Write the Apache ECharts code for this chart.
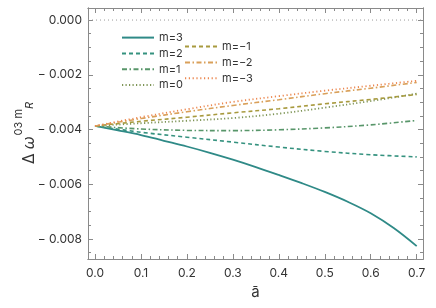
<!DOCTYPE html>
<html><head><meta charset="utf-8">
<script src="https://cdn.jsdelivr.net/npm/echarts@6/dist/echarts.min.js"></script>
<style>html,body{margin:0;padding:0;background:#fff}#c{width:436px;height:308px}</style>
</head><body><div id="c"></div>
<script>
const aFine = [0,0.05,0.1,0.15,0.2,0.25,0.3,0.35,0.4,0.45,0.5,0.55,0.6,0.65,0.7];
const aCoarse = [0,0.1,0.2,0.3,0.4,0.5,0.6,0.7];
const m3 = [-0.00387,-0.00403,-0.00420,-0.00441,-0.00462,-0.00485,-0.00510,-0.00537,-0.00566,-0.00596,-0.00628,-0.00664,-0.00706,-0.00760,-0.00826];
const m2 = [-0.00387,-0.00410,-0.00428,-0.00446,-0.00464,-0.00480,-0.00492,-0.00500];
const m1 = [-0.00387,-0.00398,-0.00403,-0.00404,-0.00401,-0.00394,-0.00383,-0.00367];
const m0 = [-0.00387,-0.00377,-0.00368,-0.00358,-0.00342,-0.00320,-0.00296,-0.00269];
const mm1 = [-0.00387,-0.00370,-0.00355,-0.00339,-0.00324,-0.00306,-0.00290,-0.00272];
const mm2 = [-0.00387,-0.00360,-0.00335,-0.00312,-0.00291,-0.00269,-0.00249,-0.00228];
const mm3 = [-0.00387,-0.00355,-0.00326,-0.00299,-0.00278,-0.00258,-0.00240,-0.00222];
const zeroLine = [0,0];
const zeroA = [-0.0152,0.7137];
const xTicks = [0,0.1,0.2,0.3,0.4,0.5,0.6,0.7];
const yTicks = [0,-0.002,-0.004,-0.006,-0.008];

const xMinor = []; for (let i=0;i<=35;i++){ if(i%5) xMinor.push(+(i*0.02).toFixed(2)); }
const yMinor = []; for (let i=-17;i<=0;i++){ if(i%4) yMinor.push(+(i*0.0005).toFixed(4)); }

const FONT = 'Inter';
const axisCol = '#8a8a8a';
function pairs(xs, ys){ return xs.map((x,i)=>[x,ys[i]]); }
function fmtY(v){ return v===0 ? '0.000' : '\u2212 ' + Math.abs(v).toFixed(3); }

const xRange = {min:-0.0152, max:0.7137};
const yRange = {min:-0.00873, max:0.00044};

function xAxisDef(pos, custom, len, showLabel){
  return Object.assign({type:'value', position:pos, gridIndex:0}, xRange, {
    axisLine:{show:true, onZero:false, lineStyle:{color:axisCol, width:1}},
    axisTick:{show:true, inside:true, length:len, customValues:custom, lineStyle:{color:axisCol}},
    axisLabel:{show:showLabel, customValues:custom, formatter:v=>v.toFixed(1), color:'#333', fontFamily:FONT, fontSize:12, margin:8},
    splitLine:{show:false}
  });
}
function yAxisDef(pos, custom, len, showLabel){
  return Object.assign({type:'value', position:pos, gridIndex:0}, yRange, {
    axisLine:{show:true, onZero:false, lineStyle:{color:axisCol, width:1}},
    axisTick:{show:true, inside:true, length:len, customValues:custom, lineStyle:{color:axisCol}},
    axisLabel:{show:showLabel, customValues:custom, formatter:fmtY, color:'#333', fontFamily:FONT, fontSize:12, margin:6},
    splitLine:{show:false}
  });
}

const xa = [xAxisDef('bottom', xTicks, 5, true), xAxisDef('bottom', xMinor, 3, false), xAxisDef('top', xTicks, 5, false), xAxisDef('top', xMinor, 3, false)];
xa[0].name = 'ā'; xa[0].nameLocation='middle'; xa[0].nameGap=26; xa[0].nameTextStyle={fontFamily:FONT, fontSize:15, color:'#333'};
const ya = [yAxisDef('left', yTicks, 5, true), yAxisDef('left', yMinor, 3, false), yAxisDef('right', yTicks, 5, false), yAxisDef('right', yMinor, 3, false)];

function line(name, xs, ys, color, type, width){
  return {name, type:'line', data:pairs(xs,ys), symbol:'none', showSymbol:false, smooth:0.35,
    lineStyle:{color, type, width}, itemStyle:{color}, z:3};
}
const C = {m3:'#2f8a87', m2:'#35927f', m1:'#58966a', m0:'#7f9557', mm1:'#a89a3e', mm2:'#d9a05a', mm3:'#ec8850'};
const series = [
  {name:'zero', type:'line', data:pairs(zeroA, zeroLine), symbol:'none', lineStyle:{color:'#9a9a9a', type:[1,3], width:1}, silent:true},
  line('m=3', aFine, m3, C.m3, 'solid', 1.8),
  line('m=2', aCoarse, m2, C.m2, [4,3], 1.6),
  line('m=1', aCoarse, m1, C.m1, [5,2.5,1.5,2.5], 1.6),
  line('m=0', aCoarse, m0, C.m0, [1.2,2.3], 1.8),
  line('m=\u22121', aCoarse, mm1, C.mm1, [4,3], 1.6),
  line('m=\u22122', aCoarse, mm2, C.mm2, [5,2.5,1.5,2.5], 1.6),
  line('m=\u22123', aCoarse, mm3, C.mm3, [1.2,2.6], 1.8)
];

const legendCommon = {orient:'vertical', itemWidth:32, itemHeight:14, itemGap:4.6,
  itemStyle:{opacity:0},
  textStyle:{fontFamily:FONT, fontSize:11, color:'#333'}, inactiveColor:'#ccc'};

const chart = echarts.init(document.getElementById('c'), null, {renderer:'canvas'});
chart.setOption({
  animation:false,
  backgroundColor:'#fff',
  grid:{left:88, right:13, top:8, bottom:49, containLabel:false},
  xAxis: xa,
  yAxis: ya,
  legend:[
    Object.assign({}, legendCommon, {left:116, top:27, data:['m=3','m=2','m=1','m=0']}),
    Object.assign({}, legendCommon, {left:179, top:36, data:['m=\u22121','m=\u22122','m=\u22123']})
  ],
  series: series,
  graphic:[{type:'text', x:25, y:133, rotation:Math.PI/2,
    style:{text:'{d|Δ}{w|ω}{s|03 m}{r|R}', align:'center', verticalAlign:'middle',
      rich:{
        d:{fontFamily:FONT, fontSize:16, fill:'#333', lineHeight:24, verticalAlign:'bottom', padding:[0,4,0,0]},
        w:{fontFamily:FONT, fontStyle:'italic', fontSize:16, fill:'#333', lineHeight:24, verticalAlign:'bottom'},
        s:{fontFamily:FONT, fontSize:11, fill:'#333', lineHeight:24, verticalAlign:'top', padding:[0,0,0,1]},
        r:{fontFamily:FONT, fontStyle:'italic', fontSize:11, fill:'#333', lineHeight:24, verticalAlign:'bottom', padding:[0,0,2,0]}
      }}}]
});
</script></body></html>
